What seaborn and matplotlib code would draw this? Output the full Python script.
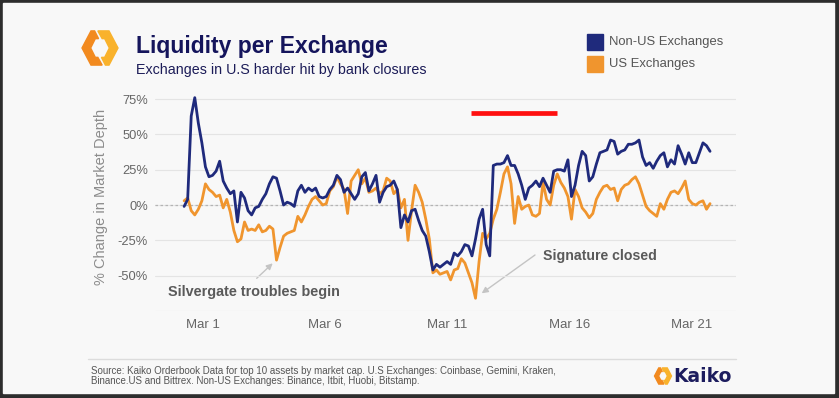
import numpy as np
import pandas as pd
import matplotlib
matplotlib.use("Agg")
import matplotlib.pyplot as plt
from matplotlib.patches import Polygon, Rectangle
import seaborn as sns

sns.set_style("white")
plt.rcParams['font.family'] = ['Liberation Sans', 'DejaVu Sans']

# --- data: % change in market depth, ~3.5 hour samples ---
start_time = '2023-02-28 06:00'
end_time = '2023-03-21 18:00'

non_us = [-1, 4, 63, 76, 58, 44, 27, 20, 21, 24,
          31, 17, 12, 8, 10, -12, 9, 5, -4, -7,
          -2, -1, 4, 8, 15, 20, 19, 10, 0, 2,
          1, -1, 10, 14, 9, 12, 10, 12, 6, 5,
          6, 11, 14, 21, 18, 9, 12, 8, 4, 8,
          20, 23, 10, 15, 21, 2, 9, 13, 14, 17,
          11, -16, -7, -12, -4, -3, -11, -18, -22, -33,
          -46, -42, -44, -42, -40, -42, -34, -36, -33, -28,
          -29, -36, -24, -10, -3, -28, -36, 28, 29, 29,
          30, 35, 28, 28, 22, 14, 4, 12, 14, 17,
          13, 19, 14, 9, 24, 25, 25, 24, 32, 6,
          14, 28, 38, 35, 17, 20, 29, 37, 38, 39,
          46, 45, 36, 38, 39, 43, 43, 44, 46, 34,
          28, 30, 26, 31, 35, 37, 27, 32, 29, 42,
          36, 29, 37, 30, 30, 37, 44, 42, 38]

us = [3, 5, -4, -7, -3, 3, 15, 11, 9, 6,
      7, -2, 4, -5, -18, -26, -24, -12, -18, -17,
      -18, -14, -19, -18, -15, -17, -39, -30, -22, -20,
      -19, -18, -8, -12, -7, -1, 4, 6, 3, 0,
      1, 10, 13, 20, 15, 11, -6, 17, 21, 25,
      15, 19, 9, 10, 12, 8, 10, 19, 17, 8,
      11, -2, 4, -25, -4, 14, 9, 2, -10, -24,
      -48, -46, -49, -48, -47, -53, -46, -45, -38, -41,
      -48, -55, -66, -40, -20, -24, -20, -10, -3, 9,
      22, 27, 15, -13, 6, -3, -1, 0, -7, -8,
      -6, 16, 4, 0, 14, 22, 16, 12, 6, -10,
      11, 6, -2, -5, -9, -6, 4, 9, 13, 14,
      11, 12, 3, 11, 14, 15, 18, 20, 15, 7,
      -1, -4, -6, -8, 1, -3, 4, 9, 10, 8,
      12, 17, 4, 1, 0, 2, 3, -3, 1]

series_names = ['US Exchanges', 'Non-US Exchanges']
colors = {'Non-US Exchanges': '#1f2a7c', 'US Exchanges': '#f0952e'}

y_ticks = [-75, -50, -25, 0, 25, 50, 75]
y_labels = ['', '-50%', '-25%', '0%', '25%', '50%', '75%']
x_tick_dates = ['2023-03-01', '2023-03-06', '2023-03-11', '2023-03-16', '2023-03-21']
x_labels = ['Mar 1', 'Mar 6', 'Mar 11', 'Mar 16', 'Mar 21']

times = pd.date_range(start_time, end_time, periods=len(non_us))
df = pd.concat([
    pd.DataFrame({'time': times, 'change': us, 'series': 'US Exchanges'}),
    pd.DataFrame({'time': times, 'change': non_us, 'series': 'Non-US Exchanges'}),
])

# --- figure, pixel overlay for decorations ---
W, H = 839, 398
fig = plt.figure(figsize=(W / 100, H / 100), dpi=100, facecolor='#2d2d2d')
bg = fig.add_axes([0, 0, 1, 1], zorder=0)
bg.set_xlim(0, W)
bg.set_ylim(H, 0)
bg.axis('off')
bg.add_patch(Rectangle((3, 3), 831, 390, color='#f8f8f8', zorder=0))

ax = fig.add_axes([155 / W, 1 - 311 / H, 581 / W, 219 / H], zorder=1)
ax.set_facecolor('none')

sns.lineplot(data=df, x='time', y='change', hue='series', hue_order=series_names,
             palette=colors, linewidth=2, legend=False, ax=ax)

ax.set_ylim(-75, 80)
ax.set_yticks(y_ticks)
ax.set_yticklabels(y_labels)
ax.set_xlim(pd.Timestamp('2023-03-01') - pd.Timedelta(days=1.94),
            pd.Timestamp('2023-03-01') + pd.Timedelta(days=21.81))
ax.set_xticks(pd.to_datetime(x_tick_dates))
ax.set_xticklabels(x_labels)
ax.set_xlabel('')
ax.set_ylabel('')
ax.tick_params(axis='y', length=0, pad=5, labelsize=9.3, labelcolor='#666666')
ax.tick_params(axis='x', length=0, pad=6, labelsize=9.5, labelcolor='#666666')
ax.yaxis.grid(True, color='#e4e4e4', linewidth=0.8)
ax.xaxis.grid(False)
ax.set_axisbelow(True)
ax.axhline(0, color='#f8f8f8', linewidth=1.2, zorder=0.5)
ax.axhline(0, color='#b4b4b4', linewidth=0.9, linestyle=(0, (2, 2)), zorder=0.6)
sns.despine(ax=ax, left=True, bottom=True)

bg.text(101, 197, '% Change in Market Depth', rotation=90, ha='center', va='center',
        fontsize=10.5, color='#8c8c8c')


# --- logo: two chevrons "< >" ---
def draw_logo(cx, cy, r):
    left = [(-0.3, -0.95), (-0.5, -0.95), (-1, 0), (-0.5, 0.95), (0.12, 0.95),
            (-0.12, 0.52), (-0.26, 0.52), (-0.52, 0), (-0.26, -0.52), (-0.08, -0.52)]
    right = [(-x, -y) for x, y in left]
    bg.add_patch(Polygon([(cx + x * r, cy + y * r) for x, y in left], color='#f28a1f'))
    bg.add_patch(Polygon([(cx + x * r, cy + y * r) for x, y in right], color='#f9b22c'))


draw_logo(100, 48, 18)

bg.text(136, 53.3, 'Liquidity per Exchange', va='baseline', fontsize=16.5,
        fontweight='bold', color='#15155c')
bg.text(136, 74, 'Exchanges in U.S harder hit by bank closures', va='baseline',
        fontsize=10.3, color='#1c1c58')

# legend
for i, name in enumerate(['Non-US Exchanges', 'US Exchanges']):
    bg.add_patch(Rectangle((587, 34 + 22 * i), 16, 16, color=colors[name]))
    bg.text(609, 42 + 22 * i, name, va='center', fontsize=9.4, color='#555555')

# red bar
bg.plot([471, 557], [113.3, 113.3], color='#ff1010', linewidth=3.4, solid_capstyle='butt')

# annotations
arrow = dict(arrowstyle='-|>', color='#c4c4c4', lw=1, mutation_scale=9, shrinkA=0, shrinkB=0)
bg.text(168, 292, 'Silvergate troubles begin', va='center', fontsize=10.4,
        fontweight='bold', color='#5a5a5a')
bg.annotate('', xy=(272.7, 263.3), xytext=(256.7, 278.3), arrowprops=arrow)
bg.text(543, 256, 'Signature closed', va='center', fontsize=10.2,
        fontweight='bold', color='#5a5a5a')
bg.annotate('', xy=(481.7, 293.3), xytext=(535, 255), arrowprops=arrow)

# footer
bg.plot([88, 736], [359, 359], color='#dcdcdc', linewidth=1)
bg.text(91, 370.5, 'Source: Kaiko Orderbook Data for top 10 assets by market cap. '
        'U.S Exchanges: Coinbase, Gemini, Kraken,', va='center', fontsize=7, color='#555555')
bg.text(91, 381.5, 'Binance.US and Bittrex. Non-US Exchanges: Binance, Itbit, Huobi, Bitstamp.',
        va='center', fontsize=7, color='#555555')
draw_logo(663, 376, 8.5)
bg.text(673, 376, 'Kaiko', va='center', fontsize=13.5, fontweight='bold',
        color='#1c1c5e', family='DejaVu Sans')

fig.savefig('out.png', dpi=100, facecolor=fig.get_facecolor())
